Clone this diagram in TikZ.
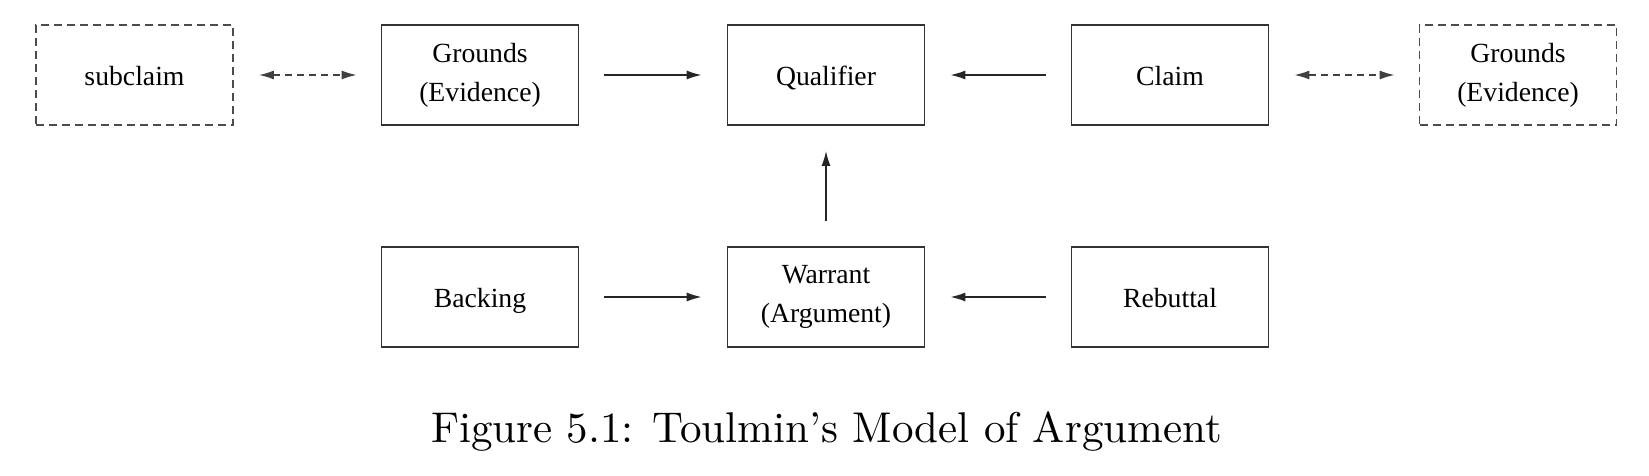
\documentclass[tikz,border=0pt]{standalone}
\usepackage{fontspec}
\newfontfamily\tnr{Liberation Serif}
\newfontfamily\capfont[Ligatures=TeX]{lmroman10-regular.otf}
\usetikzlibrary{arrows.meta}
\begin{document}
\begin{tikzpicture}[x=0.5pt,y=-0.5pt,
  box/.style={draw=black!80, line width=0.8pt, minimum width=98.5pt, minimum height=50pt, inner sep=1pt, align=center, font=\tnr\fontsize{13.85pt}{19.5pt}\selectfont},
  oneline/.style={text height=10.5pt, text depth=0pt},
  dbox/.style={box, draw=black!70, dash pattern=on 4pt off 2.5pt},
  arr/.style={-{Latex[length=7.5pt,width=4.5pt]}, line width=0.8pt, draw=black!85, shorten >=12.5pt, shorten <=12.5pt},
  darr/.style={{Latex[length=7.5pt,width=4.5pt]}-{Latex[length=7.5pt,width=4.5pt]}, line width=0.8pt, draw=black!75, dash pattern=on 3.5pt off 2.5pt, shorten >=12pt, shorten <=12.5pt}
]
\useasboundingbox (0,0) rectangle (1649,476);
\node[dbox,oneline] (sub) at (134.5,75) {subclaim};
\node[box]  (g1)  at (480,75)   {Grounds\\(Evidence)};
\node[box,oneline]  (q)   at (826,75)   {Qualifier};
\node[box,oneline]  (c)   at (1170,75)  {Claim};
\node[dbox] (g2)  at (1518,75)  {Grounds\\(Evidence)};
\node[box,oneline]  (bk)  at (480,297)  {Backing};
\node[box]  (w)   at (826,297)  {Warrant\\(Argument)};
\node[box,oneline]  (rb)  at (1170,297) {Rebuttal};
\draw[darr] (sub) -- (g1);
\draw[arr] (g1) -- (q);
\draw[arr] (c) -- (q);
\draw[darr] (c) -- (g2);
\draw[arr] (w) -- (q);
\draw[arr] (bk) -- (w);
\draw[arr] (rb) -- (w);
\node[anchor=base, inner sep=0pt, font=\capfont\fontsize{21.5pt}{26pt}\selectfont] (capt) at (826.5,442) {Figure 5.1: Toulmin's Model of Argument};
\end{tikzpicture}
\end{document}
